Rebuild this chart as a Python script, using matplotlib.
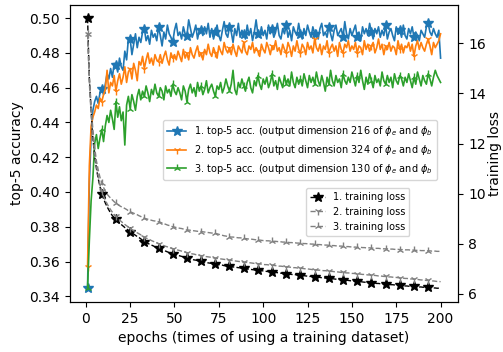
import matplotlib
matplotlib.use("Agg")
import matplotlib.pyplot as plt
import numpy as np

epochs = np.arange(1, 201)

# top-5 accuracy per epoch
acc_216 = [
    .345, .405, .432, .447, .452, .455, .451, .457, .459, .456,
    .462, .468, .465, .471, .466, .474, .473, .469, .477, .472,
    .470, .481, .476, .488, .488, .479, .485, .491, .483, .489,
    .486, .492, .494, .487, .490, .485, .493, .489, .491, .487,
    .495, .490, .484, .492, .488, .496, .491, .489, .486, .493,
    .497, .490, .492, .488, .495, .491, .490, .499, .494, .489,
    .492, .496, .488, .493, .493, .490, .495, .491, .497, .489,
    .494, .488, .492, .496, .490, .487, .493, .498, .491, .489,
    .495, .492, .486, .494, .490, .497, .489, .493, .491, .488,
    .496, .490, .494, .487, .492, .499, .491, .489, .495, .490,
    .493, .488, .496, .491, .494, .489, .492, .497, .490, .488,
    .494, .491, .496, .489, .493, .487, .495, .492, .490, .497,
    .491, .488, .494, .490, .496, .492, .489, .495, .491, .493,
    .488, .494, .497, .490, .492, .489, .495, .491, .487, .493,
    .496, .490, .492, .494, .489, .498, .491, .488, .494, .490,
    .493, .496, .489, .492, .487, .495, .491, .494, .490, .497,
    .492, .488, .494, .491, .495, .489, .493, .490, .496, .488,
    .492, .494, .490, .487, .495, .491, .493, .489, .496, .490,
    .488, .494, .491, .495, .489, .492, .490, .487, .493, .491,
    .489, .495, .497, .492, .490, .494, .491, .489, .493, .477,
]
acc_324 = [
    .357, .415, .438, .443, .446, .450, .448, .454, .452, .456,
    .459, .470, .457, .463, .461, .467, .458, .464, .468, .462,
    .466, .472, .463, .469, .471, .465, .474, .470, .464, .475,
    .473, .478, .471, .476, .480, .474, .477, .473, .479, .476,
    .475, .479, .474, .478, .481, .476, .473, .480, .477, .479,
    .476, .481, .478, .475, .482, .477, .480, .476, .483, .479,
    .477, .481, .484, .478, .480, .476, .482, .479, .485, .480,
    .478, .483, .480, .477, .484, .481, .479, .486, .482, .480,
    .483, .479, .485, .481, .478, .484, .482, .480, .486, .481,
    .479, .484, .482, .486, .480, .483, .481, .478, .485, .482,
    .480, .486, .483, .479, .484, .482, .487, .481, .483, .479,
    .485, .482, .480, .486, .483, .478, .484, .481, .487, .482,
    .480, .485, .483, .479, .486, .482, .484, .480, .488, .483,
    .481, .485, .479, .484, .482, .487, .480, .483, .485, .481,
    .484, .478, .486, .482, .480, .485, .483, .487, .481, .484,
    .482, .486, .480, .484, .483, .479, .487, .482, .485, .481,
    .484, .486, .480, .483, .488, .482, .485, .479, .484, .482,
    .486, .481, .484, .483, .479, .487, .482, .485, .480, .484,
    .483, .486, .481, .485, .478, .484, .487, .482, .486, .483,
    .481, .485, .488, .484, .479, .486, .483, .485, .487, .491,
]
acc_130 = [
    .345, .372, .395, .408, .428, .433, .425, .431, .436, .429,
    .438, .444, .440, .447, .442, .436, .452, .443, .449, .441,
    .446, .427, .450, .455, .448, .456, .452, .447, .455, .459,
    .453, .458, .455, .461, .457, .452, .459, .456, .462, .457,
    .455, .460, .458, .453, .461, .457, .459, .455, .462, .458,
    .456, .460, .457, .453, .461, .458, .452, .459, .462, .457,
    .460, .455, .463, .458, .461, .456, .459, .464, .457, .460,
    .462, .458, .455, .461, .459, .463, .457, .460, .465, .461,
    .458, .462, .470, .459, .456, .463, .460, .465, .461, .458,
    .463, .466, .460, .457, .464, .461, .467, .462, .459, .465,
    .462, .466, .460, .463, .468, .461, .464, .459, .466, .463,
    .460, .467, .462, .465, .461, .469, .463, .460, .466, .462,
    .465, .461, .468, .464, .460, .467, .463, .466, .462, .469,
    .464, .461, .467, .463, .458, .466, .462, .470, .464, .461,
    .467, .463, .465, .460, .468, .464, .462, .466, .463, .469,
    .465, .461, .467, .463, .470, .464, .459, .466, .462, .468,
    .464, .460, .467, .463, .465, .461, .469, .464, .462, .467,
    .463, .466, .460, .468, .464, .462, .467, .465, .461, .466,
    .463, .468, .464, .460, .466, .462, .469, .465, .461, .467,
    .464, .462, .468, .465, .461, .466, .470, .467, .465, .463,
]

# training loss per epoch
loss_216 = [
    17.00, 14.60, 13.30, 12.20, 11.50, 11.00, 10.60, 10.28, 10.00, 9.80,
    9.63, 9.48, 9.35, 9.23, 9.12, 9.05, 8.98, 8.90, 8.83, 8.77,
    8.71, 8.65, 8.60, 8.54, 8.49, 8.44, 8.39, 8.34, 8.29, 8.25,
    8.20, 8.14, 8.09, 8.06, 8.02, 7.98, 7.95, 7.92, 7.88, 7.85,
    7.82, 7.79, 7.76, 7.74, 7.71, 7.68, 7.65, 7.63, 7.60, 7.58,
    7.56, 7.54, 7.52, 7.50, 7.48, 7.45, 7.42, 7.41, 7.40, 7.38,
    7.36, 7.35, 7.33, 7.32, 7.30, 7.29, 7.27, 7.26, 7.24, 7.23,
    7.22, 7.21, 7.20, 7.18, 7.17, 7.16, 7.15, 7.13, 7.12, 7.11,
    7.10, 7.09, 7.08, 7.07, 7.06, 7.05, 7.04, 7.03, 7.02, 7.01,
    7.00, 6.99, 6.98, 6.97, 6.96, 6.95, 6.95, 6.94, 6.93, 6.92,
    6.91, 6.90, 6.89, 6.88, 6.87, 6.86, 6.86, 6.85, 6.84, 6.83,
    6.82, 6.81, 6.81, 6.80, 6.79, 6.78, 6.77, 6.77, 6.76, 6.75,
    6.74, 6.74, 6.73, 6.72, 6.71, 6.70, 6.70, 6.69, 6.68, 6.67,
    6.67, 6.66, 6.65, 6.64, 6.64, 6.63, 6.62, 6.61, 6.61, 6.60,
    6.59, 6.58, 6.58, 6.57, 6.56, 6.55, 6.55, 6.54, 6.53, 6.52,
    6.52, 6.51, 6.50, 6.49, 6.49, 6.48, 6.47, 6.47, 6.46, 6.45,
    6.45, 6.44, 6.43, 6.42, 6.42, 6.41, 6.40, 6.40, 6.39, 6.38,
    6.38, 6.37, 6.37, 6.36, 6.35, 6.35, 6.34, 6.34, 6.33, 6.32,
    6.32, 6.31, 6.31, 6.30, 6.30, 6.29, 6.29, 6.28, 6.28, 6.27,
    6.27, 6.26, 6.26, 6.25, 6.25, 6.24, 6.24, 6.23, 6.23, 6.22,
]
loss_324 = [
    16.36, 14.40, 13.20, 12.25, 11.60, 11.10, 10.70, 10.38, 10.10, 9.90,
    9.74, 9.60, 9.47, 9.36, 9.26, 9.17, 9.09, 9.02, 8.95, 8.89,
    8.83, 8.77, 8.72, 8.67, 8.62, 8.57, 8.52, 8.48, 8.44, 8.40,
    8.36, 8.31, 8.27, 8.23, 8.20, 8.17, 8.13, 8.10, 8.07, 8.04,
    8.01, 7.98, 7.96, 7.93, 7.90, 7.88, 7.86, 7.83, 7.81, 7.79,
    7.77, 7.75, 7.73, 7.71, 7.69, 7.67, 7.65, 7.64, 7.62, 7.60,
    7.59, 7.57, 7.56, 7.54, 7.53, 7.52, 7.50, 7.49, 7.48, 7.47,
    7.45, 7.44, 7.43, 7.42, 7.41, 7.40, 7.39, 7.38, 7.37, 7.36,
    7.35, 7.34, 7.33, 7.32, 7.31, 7.30, 7.29, 7.28, 7.27, 7.26,
    7.26, 7.25, 7.24, 7.23, 7.22, 7.21, 7.21, 7.20, 7.19, 7.18,
    7.17, 7.17, 7.16, 7.15, 7.14, 7.14, 7.13, 7.12, 7.11, 7.11,
    7.10, 7.09, 7.08, 7.08, 7.07, 7.06, 7.05, 7.05, 7.04, 7.03,
    7.02, 7.02, 7.01, 7.00, 7.00, 6.99, 6.98, 6.97, 6.97, 6.96,
    6.95, 6.95, 6.94, 6.93, 6.93, 6.92, 6.91, 6.90, 6.90, 6.89,
    6.88, 6.88, 6.87, 6.86, 6.86, 6.85, 6.84, 6.84, 6.83, 6.82,
    6.82, 6.81, 6.80, 6.80, 6.79, 6.78, 6.78, 6.77, 6.76, 6.76,
    6.75, 6.74, 6.74, 6.73, 6.72, 6.72, 6.71, 6.70, 6.70, 6.69,
    6.68, 6.68, 6.67, 6.66, 6.66, 6.65, 6.64, 6.64, 6.63, 6.62,
    6.62, 6.61, 6.60, 6.60, 6.59, 6.58, 6.58, 6.57, 6.56, 6.56,
    6.55, 6.54, 6.54, 6.53, 6.52, 6.52, 6.51, 6.50, 6.50, 6.49,
]
loss_130 = [
    16.36, 14.70, 13.50, 12.55, 11.85, 11.30, 10.95, 10.65, 10.44, 10.25,
    10.10, 9.98, 9.90, 9.82, 9.75, 9.68, 9.62, 9.57, 9.52, 9.48,
    9.45, 9.41, 9.37, 9.32, 9.28, 9.25, 9.22, 9.19, 9.16, 9.12,
    9.09, 9.06, 9.02, 9.00, 8.98, 8.96, 8.94, 8.92, 8.91, 8.89,
    8.88, 8.86, 8.83, 8.80, 8.78, 8.75, 8.73, 8.71, 8.68, 8.67,
    8.65, 8.64, 8.62, 8.61, 8.59, 8.57, 8.55, 8.55, 8.54, 8.53,
    8.52, 8.51, 8.50, 8.50, 8.49, 8.48, 8.47, 8.46, 8.45, 8.44,
    8.43, 8.43, 8.42, 8.40, 8.38, 8.36, 8.34, 8.32, 8.31, 8.29,
    8.28, 8.27, 8.27, 8.26, 8.25, 8.24, 8.24, 8.23, 8.22, 8.21,
    8.20, 8.19, 8.19, 8.18, 8.17, 8.16, 8.15, 8.15, 8.14, 8.13,
    8.13, 8.12, 8.12, 8.11, 8.11, 8.10, 8.10, 8.09, 8.09, 8.08,
    8.07, 8.07, 8.06, 8.06, 8.05, 8.05, 8.04, 8.04, 8.03, 8.03,
    8.02, 8.02, 8.01, 8.01, 8.00, 8.00, 7.99, 7.99, 7.98, 7.98,
    7.97, 7.97, 7.96, 7.96, 7.95, 7.95, 7.94, 7.94, 7.93, 7.93,
    7.92, 7.92, 7.91, 7.91, 7.90, 7.90, 7.89, 7.89, 7.88, 7.88,
    7.87, 7.87, 7.86, 7.86, 7.86, 7.85, 7.85, 7.84, 7.84, 7.84,
    7.83, 7.83, 7.82, 7.82, 7.82, 7.81, 7.81, 7.80, 7.80, 7.80,
    7.79, 7.79, 7.79, 7.78, 7.78, 7.78, 7.77, 7.77, 7.77, 7.76,
    7.76, 7.76, 7.75, 7.75, 7.75, 7.74, 7.74, 7.74, 7.73, 7.73,
    7.73, 7.72, 7.72, 7.72, 7.71, 7.71, 7.71, 7.70, 7.70, 7.70,
]

acc_labels = [
    r"1. top-5 acc. (output dimension 216 of $\phi_e$ and $\phi_b$",
    r"2. top-5 acc. (output dimension 324 of $\phi_e$ and $\phi_b$",
    r"3. top-5 acc. (output dimension 130 of $\phi_e$ and $\phi_b$",
]
loss_labels = ["1. training loss", "2. training loss", "3. training loss"]

fig = plt.figure(figsize=(5.03, 3.52), dpi=100)
ax = fig.add_subplot(111)
fig.subplots_adjust(left=0.139, right=0.911, top=0.987, bottom=0.142)
ax2 = ax.twinx()

acc_lines = []
acc_lines += ax.plot(epochs, acc_216, color="tab:blue", marker="*", markevery=8, ms=7, lw=1.2)
acc_lines += ax.plot(epochs, acc_324, color="tab:orange", marker="1", markevery=8, ms=6, lw=1.2)
acc_lines += ax.plot(epochs, acc_130, color="tab:green", marker="2", markevery=8, ms=6, lw=1.2)

loss_lines = []
loss_lines += ax2.plot(epochs, loss_216, "--", color="black", marker="*", markevery=8, ms=7, lw=1)
loss_lines += ax2.plot(epochs, loss_324, "--", color="gray", marker="1", markevery=8, ms=6, lw=1)
loss_lines += ax2.plot(epochs, loss_130, "--", color="gray", marker="2", markevery=8, ms=6, lw=1)

ax.set_ylim(0.3367, 0.5078)
ax.set_yticks(np.arange(0.34, 0.501, 0.02))
ax2.set_ylim(5.68, 17.54)
ax2.set_yticks([6, 8, 10, 12, 14, 16])
ax.set_xlim(-8.95, 209.95)

ax.set_xlabel("epochs (times of using a training dataset)")
ax.set_ylabel("top-5 accuracy")
ax2.set_ylabel("training loss", labelpad=2)

leg1 = ax2.legend(acc_lines, acc_labels, loc="upper left", bbox_to_anchor=(0.240, 0.611),
                  borderaxespad=0, fontsize=7)
ax2.add_artist(leg1)
ax2.legend(loss_lines, loss_labels, loc="upper left", bbox_to_anchor=(0.608, 0.383),
           borderaxespad=0, fontsize=7, handlelength=1.6)

fig.savefig("out.png", dpi=100)
